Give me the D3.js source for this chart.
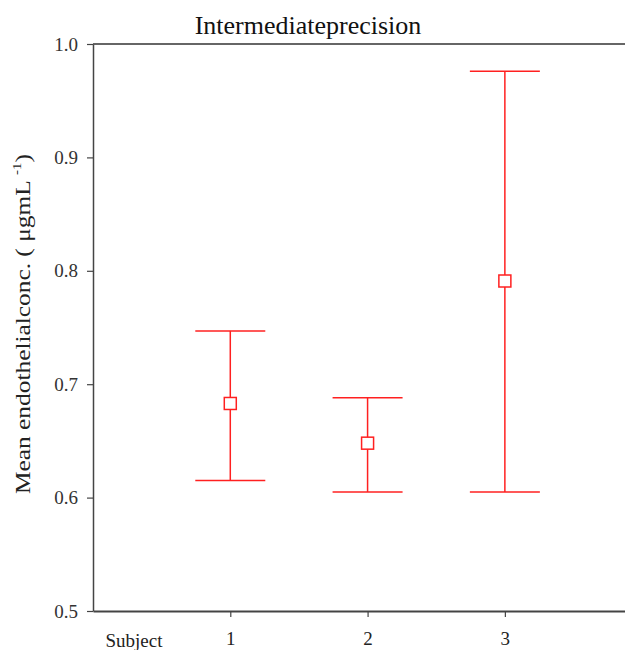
<!DOCTYPE html>
<html><head><meta charset="utf-8">
<script src="https://cdn.jsdelivr.net/npm/d3@7"></script>
<style>body{margin:0;background:#fff}svg{display:block}</style>
</head><body><svg id="c" width="625" height="650"></svg>
<script>
const subjects = [1, 2, 3];
const means = [0.683, 0.648, 0.791];
const lowers = [0.615, 0.605, 0.605];
const uppers = [0.747, 0.688, 0.976];
const yTicks = [0.5, 0.6, 0.7, 0.8, 0.9, 1.0];

const FONT = "'Liberation Serif', 'Times New Roman', Times, serif";
const svg = d3.select("#c").attr("font-family", FONT);
const x = d3.scaleLinear().domain([0, 3.875]).range([93, 625]);
const y = d3.scaleLinear().domain([0.5, 1.0]).range([611, 44]);
const red = "#ff2020";
const axisCol = "#444";

// top frame line
svg.append("line").attr("x1", x(0)).attr("x2", x(3.875)).attr("y1", y(1.0)).attr("y2", y(1.0))
  .attr("stroke", "#666").attr("stroke-width", 2);

const yAxis = svg.append("g").attr("transform", `translate(${x(0)},0)`)
  .call(d3.axisLeft(y).tickValues(yTicks).tickFormat(d3.format(".1f")).tickSize(6).tickSizeOuter(0));
yAxis.attr("font-family", FONT);
yAxis.select(".domain").attr("stroke", axisCol).attr("stroke-width", 1.5);
yAxis.selectAll(".tick line").attr("stroke", axisCol).attr("stroke-width", 1.2);
yAxis.selectAll("text").attr("font-size", 19).attr("fill", "#333").attr("dx", "-6").attr("font-family", FONT);

const xAxis = svg.append("g").attr("transform", `translate(0,${y(0.5)})`)
  .call(d3.axisBottom(x).tickValues(subjects).tickFormat(d3.format("d")).tickSize(6).tickSizeOuter(0));
xAxis.attr("font-family", FONT);
xAxis.select(".domain").attr("stroke", axisCol).attr("stroke-width", 2);
xAxis.selectAll(".tick line").attr("stroke", axisCol).attr("stroke-width", 1.2);
xAxis.selectAll("text").attr("font-size", 19).attr("fill", "#222").attr("dy", "1.3em").attr("font-family", FONT);

svg.append("text").attr("x", 134).attr("y", 647).attr("text-anchor", "middle")
  .attr("font-size", 19).attr("fill", "#222").text("Subject");

svg.append("text").attr("x", 308).attr("y", 34).attr("text-anchor", "middle")
  .attr("font-size", 26).attr("fill", "#111").text("Intermediateprecision");

const yl = svg.append("text").attr("transform", "translate(30,324) rotate(-90)")
  .attr("text-anchor", "middle").attr("font-size", 22).attr("fill", "#222")
  .attr("textLength", 340).attr("lengthAdjust", "spacingAndGlyphs");
yl.append("tspan").text("Mean endothelialconc. ( μgmL ");
yl.append("tspan").attr("font-size", 13).attr("dy", "-9").text("-1");
yl.append("tspan").attr("dy", "9").text(")");

const cap = 35, sq = 12;
const g = svg.append("g").attr("stroke", red).attr("stroke-width", 1.5).attr("fill", "none");
subjects.forEach((s, i) => {
  const cx = x(s);
  g.append("line").attr("x1", cx).attr("x2", cx).attr("y1", y(uppers[i])).attr("y2", y(lowers[i]));
  g.append("line").attr("x1", cx - cap).attr("x2", cx + cap).attr("y1", y(uppers[i])).attr("y2", y(uppers[i]));
  g.append("line").attr("x1", cx - cap).attr("x2", cx + cap).attr("y1", y(lowers[i])).attr("y2", y(lowers[i]));
  g.append("rect").attr("x", cx - sq / 2).attr("y", y(means[i]) - sq / 2).attr("width", sq).attr("height", sq)
    .attr("fill", "#fff");
});
</script></body></html>
